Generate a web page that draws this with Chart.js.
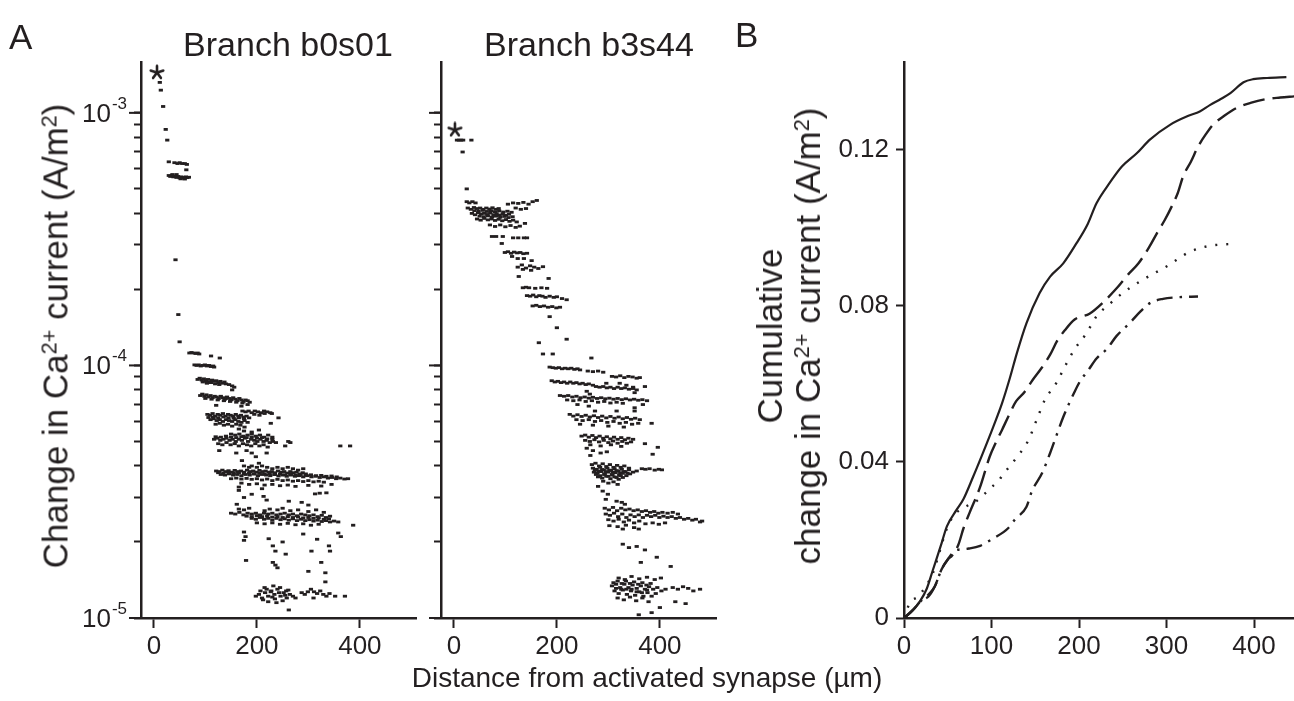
<!DOCTYPE html>
<html><head><meta charset="utf-8">
<script src="https://cdn.jsdelivr.net/npm/chart.js@4.4.1/dist/chart.umd.min.js"></script>
<style>
html,body{margin:0;padding:0;background:#fff;}
#wrap{position:relative;width:1294px;height:701px;overflow:hidden;font-family:"Liberation Sans",Arial,Helvetica,sans-serif;color:#231f20;}
canvas{position:absolute;top:0;}
.lbl{position:absolute;white-space:nowrap;line-height:1;}
.ctr{transform:translateX(-50%);}
.rot{transform:translate(-50%,-50%) rotate(-90deg);text-align:center;}
sup{font-size:0.62em;position:relative;top:-0.5em;vertical-align:baseline;line-height:0;}
</style></head>
<body><div id="wrap">
<canvas id="cA1" width="425" height="701" style="left:0px;width:425px;height:701px"></canvas>
<canvas id="cA2" width="300" height="701" style="left:425px;width:300px;height:701px"></canvas>
<canvas id="cB" width="564" height="701" style="left:730px;width:564px;height:701px"></canvas>
<div class="lbl" style="left:9px;top:19px;font-size:35px">A</div>
<div class="lbl" style="left:735px;top:17px;font-size:35px">B</div>
<div class="lbl ctr" style="left:288px;top:27px;font-size:34px">Branch b0s01</div>
<div class="lbl ctr" style="left:589px;top:27px;font-size:34px">Branch b3s44</div>
<div class="lbl ctr" style="left:647px;top:664px;font-size:28px">Distance from activated synapse (µm)</div>
<div class="lbl rot" style="left:55px;top:336px;font-size:35px">Change in Ca<sup>2+</sup> current (A/m<sup>2</sup>)</div>
<div class="lbl rot" style="left:789px;top:336px;font-size:35px;line-height:38px">Cumulative<br>change in Ca<sup>2+</sup> current (A/m<sup>2</sup>)</div>
</div>
<script>
// ---------------- DATA ----------------
// Panel A: y values in units of 1e-5 A/m^2, x in µm
const A_UNIT = 1e-5;
const starB0 = [[6, 145]];
const starB3 = [[2, 86]];

const b0s01Top = [[11.5,132],[13.5,123],[18,106],[23,86],[26,78],[29,64],
 [40,63.5],[46,63],[50,63.5],[55,63],[60,63],[64,62.5],[63,59.5],
 [29,56.5],[32,56],[35,56.5],[38,55.8],[41,56.2],[44,55.5],[47,56],[50,55.3],[53,55.8],[56,55.5],[59,55.2],[62,55.8],[65,55.4],[68,55.6],[36,57],[44,57],[52,54.8],[60,54.7],
 [42,26.2],[47.5,15.9],[50,12.4]];

const b0s01Upper = [[69,11.2],[73,11.25],[77,11.2],[81,11.15],[85,11.2],[88,11.1],[111,10.9],[128,10.7],
 [79,10.05],[83,10.0],[87,10.05],[91,9.95],[95,10.0],[99,10.05],[103,9.95],[107,10.0],[111,9.9],[115,9.95],[117,9.85],
 [85,8.8],[89,8.9],[93,8.75],[97,8.85],[101,8.7],[105,8.8],[109,8.6],[113,8.75],[117,8.65],[121,8.7],[125,8.55],[129,8.65],[133,8.5],[137,8.6],[140,8.45],[95,8.6],[103,8.5],[111,8.55],[119,8.45],[127,8.4],[146,8.4],[152,8.3],[156,8.2],[152,8.0],
 [90,7.6],[94,7.7],[98,7.55],[102,7.65],[106,7.5],[110,7.6],[114,7.45],[118,7.55],[122,7.5],[126,7.4],[130,7.55],[134,7.45],[138,7.35],[142,7.5],[146,7.4],[150,7.3],[154,7.45],[158,7.35],[162,7.25],[166,7.4],[170,7.3],[174,7.2],[178,7.3],[182,7.25],[186,7.15],[100,7.4],[112,7.35],[124,7.3],[136,7.25],[148,7.2],[160,7.15],[172,7.1],[121,6.95],[170,6.9],[182,7.0],
 [172,6.6],[178,6.55],[184,6.6],[190,6.5],[196,6.6],[202,6.55],[208,6.5],[214,6.6],[220,6.55],[226,6.5],[229,6.45],
 [104,6.4],[109,6.35],[114,6.45],[119,6.3],[124,6.4],[129,6.35],[134,6.45],[139,6.3],[144,6.4],[149,6.35],[154,6.3],[159,6.4],[164,6.3],[169,6.35],[174,6.25],[180,6.3],
 [106,6.22],[115,6.25],[125,6.2],[135,6.25],[145,6.2],[155,6.18],[165,6.2],[175,6.15],[185,6.2],[195,6.4],[205,6.35],[215,6.45],
 [110,6.1],[116,6.15],[122,6.05],[128,6.1],[134,6.0],[140,6.1],[146,6.05],[152,6.0],[158,6.1],[164,6.0],[170,5.95],[176,6.05],[182,5.95],
 [120,5.85],[128,5.9],[136,5.8],[144,5.85],[152,5.75],[160,5.85],[168,5.8],[176,5.7],
 [242,6.2],[227,5.9],[165,5.6],[175,5.5],[190,5.45],[204,5.55]];

const b0s01Mid = [[150,5.35],[158,5.3],[166,5.35],[174,5.25],[182,5.3],[190,5.35],[198,5.25],[206,5.3],[214,5.2],[222,5.3],[230,5.2],
 [120,5.22],[130,5.2],[140,5.25],[150,5.2],[160,5.18],[170,5.22],[180,5.18],[190,5.2],[200,5.15],[210,5.18],[220,5.12],[230,5.1],
 [117,5.1],[123,5.15],[129,5.05],[135,5.1],[141,5.15],[147,5.05],[153,5.1],[159,5.0],[165,5.1],[171,5.05],[177,5.15],[183,5.0],[189,5.1],[195,5.05],[201,5.0],[207,5.1],[213,5.0],[219,5.05],[225,4.95],[231,5.0],[237,4.95],
 [125,4.9],[133,4.85],[141,4.95],[149,4.85],[157,4.9],[165,4.8],[173,4.9],[181,4.85],[189,4.8],[197,4.9],[205,4.8],[213,4.85],[221,4.75],
 [261,5.0],[265,4.95],[255,4.8],[362,4.8],[381,4.8],[127,4.6],[160,4.5],[180,4.6],[190,4.5],[198,4.35],[219,4.5],[171,4.2],[204,4.1],[175,4.0],[185,3.95],
 [190,4.0],[200,3.95],[210,4.0],[220,3.95],[230,3.9],[240,3.95],[250,3.9],[260,3.95],[270,3.9],[280,3.85],[290,3.9],
 [121,3.82],[127,3.8],[133,3.85],[139,3.8],[145,3.83],[151,3.78],[157,3.84],[163,3.8],[169,3.82],[175,3.78],[181,3.85],[187,3.8],[193,3.82],[199,3.78],[205,3.84],[211,3.8],[217,3.82],[223,3.78],[229,3.8],[235,3.76],[241,3.82],[247,3.78],[253,3.8],[259,3.75],[265,3.8],[271,3.76],[277,3.78],[283,3.72],[289,3.76],[295,3.72],
 [125,3.76],[135,3.74],[145,3.77],[155,3.74],[165,3.76],[175,3.73],[185,3.75],[195,3.72],[205,3.74],[215,3.72],[225,3.73],[235,3.7],[245,3.72],[255,3.69],[265,3.71],[275,3.68],[285,3.7],[295,3.67],[305,3.69],[315,3.66],[325,3.67],[335,3.64],[345,3.65],[355,3.62],
 [130,3.7],[138,3.68],[146,3.72],[154,3.68],[162,3.7],[170,3.66],[178,3.7],[186,3.68],[194,3.72],[202,3.66],[210,3.7],[218,3.68],[226,3.66],[234,3.7],[242,3.65],[250,3.68],[258,3.64],[266,3.68],[274,3.64],[282,3.66],[290,3.62],[298,3.66],[306,3.62],[314,3.64],[322,3.6],[330,3.62],[338,3.58],[346,3.6],[354,3.56],[362,3.58],[370,3.55],[377,3.56],
 [150,3.56],[160,3.58],[170,3.55],[180,3.57],[190,3.54],[200,3.56],[210,3.52],[220,3.55],[230,3.5],[240,3.54],[250,3.5],[260,3.52],[270,3.48],[280,3.5],[290,3.47],[300,3.5],[310,3.46],[320,3.48],[330,3.45],
 [170,3.42],[185,3.38],[200,3.4],[215,3.36],[230,3.38],[245,3.34],[260,3.36],[275,3.32],[300,3.35],[325,3.33],[345,3.38],
 [165,3.3],[165,3.2],[210,3.25],[313,3.1],[322,3.12],[335,3.13],[262,2.9],[287,2.87],[300,2.8],[161,2.82],[190,3.09],[213,3.03],[219,2.93],[175,3.0]];

const b0s01Low = [[165,2.7],[175,2.68],[185,2.72],[215,2.66],[225,2.7],[240,2.68],[250,2.72],[265,2.66],[280,2.68],[300,2.64],[315,2.68],[330,2.62],
 [150,2.6],[158,2.58],[166,2.62],[174,2.56],[182,2.6],[190,2.58],[198,2.6],[206,2.56],[214,2.6],[222,2.58],[230,2.6],[238,2.56],[246,2.58],[254,2.6],[262,2.56],[270,2.58],[278,2.54],[286,2.58],[294,2.56],[302,2.54],[310,2.56],[318,2.52],[326,2.55],[334,2.5],[342,2.53],
 [180,2.53],[190,2.52],[200,2.54],[210,2.52],[220,2.53],[230,2.51],[240,2.52],[250,2.5],[260,2.52],[270,2.5],[280,2.51],[290,2.49],[300,2.5],[310,2.48],[320,2.49],[330,2.46],[340,2.47],
 [190,2.48],[198,2.46],[206,2.5],[214,2.46],[222,2.48],[230,2.44],[238,2.48],[246,2.45],[254,2.47],[262,2.44],[270,2.47],[278,2.43],[286,2.46],[294,2.43],[302,2.45],[310,2.42],[318,2.44],[326,2.41],[334,2.43],[342,2.4],[350,2.42],[358,2.4],
 [200,2.38],[215,2.36],[230,2.38],[245,2.35],[260,2.37],[275,2.34],[290,2.36],[305,2.33],[320,2.35],[387,2.33],
 [175,2.19],[175,2.03],[178,2.1],[223,2.06],[231,1.93],[236,1.84],[256,1.79],[306,1.84],[340,1.93],[342,1.84],[179,1.69],[231,1.66],[236,1.62],[240,1.58],[300,1.53],[325,1.66],[333,1.51],[333,1.39],[358,2.17],[363,2.1],[250,2.0],[290,2.15],[317,2.05]];

const b0s01Bottom = [[198,1.22],[204,1.24],[210,1.2],[216,1.26],[222,1.22],[228,1.28],[234,1.24],[240,1.3],[246,1.22],[252,1.26],[258,1.2],[264,1.24],[270,1.22],[275,1.2],[215,1.32],[232,1.34],[245,1.32],[222,1.16],[238,1.15],[250,1.17],[235,1.19],[227,1.27],[257,1.28],
 [207,1.28],[219,1.3],[243,1.26],[261,1.29],[212,1.18],[230,1.21],[255,1.23],
 [287,1.26],[293,1.24],[299,1.27],[305,1.3],[311,1.27],[317,1.25],[323,1.28],[329,1.24],[335,1.22],[341,1.25],[352,1.22],[371,1.22],[310,1.2],[262,1.076]];

const b3s44Top = [[6,78],[10,78],[14,78],[18,78],[34,78],[17,70],[25,50],
 [25,44.5],[30,44],[36,44.5],[42,44],[105,43.5],[115,44],[125,43.8],[135,44.2],[145,43.5],[153,44.5],[161,45],
 [27,42],[33,41.5],[39,42.2],[45,41.8],[51,42],[57,41.5],[63,42],[69,41.6],[75,42.1],[81,41.5],[87,41.8],[120,42],[130,41.5],[140,41.8],
 [40,41],[48,40.8],[56,41.1],[64,40.7],[72,41],[80,40.6],[88,40.9],[96,40.5],[104,40.8],[112,40.4],
 [35,40],[41,39.5],[47,40.2],[53,39.8],[59,40],[65,39.6],[71,40.1],[77,39.5],[83,39.9],[89,39.4],[95,39.8],[101,39.3],[107,39.7],
 [50,39],[58,38.8],[66,39.1],[74,38.7],[82,39],[90,38.6],[98,38.9],[106,38.5],[114,38.8],
 [45,38],[52,37.6],[59,38.2],[66,37.7],[73,38],[80,37.5],[87,37.9],[94,37.4],[101,37.8],[108,37.2],[115,37.6],[122,37],
 [70,36],[80,35.5],[90,36],[100,35.4],[110,35.8],[120,35.2],[128,35.6],[138,36.5]];

const b3s44Diag = [[74,32.4],[82,32.4],[95,32.4],[115,32],[125,32],[136,32],[142,32],[93,30.4],
 [99,28],[105,28.2],[111,27.8],[117,28.1],[123,27.9],[129,28],[135,27.7],[142,27.8],[113,27],[124,26.5],[136,26.5],[151,26],
 [124,24.5],[132,25],[140,24.3],[148,24.8],[156,24.5],[164,24.2],[173,24.6],[134,24],[150,23.8],[126,22.5],[184,22.1],
 [134,20.3],[140,20.4],[146,20.3],[158,20.2],[170,20.3],[181,20.2],
 [142,18.9],[148,18.8],[154,19],[160,18.7],[166,18.9],[172,18.8],[178,18.6],[186,18.8],[194,18.6],[200,18.7],[210,18.4],[219,18.2],
 [153,17.2],[160,17.3],[167,17.1],[175,17.2],[183,17],[191,17.1],[199,16.9],[206,17],[186,15.6],[200,14.1],[165,12.3],[219,12.7],
 [173,11.1],[192,11.1],[267,10.7]];

const b3s44Upper = [[186,9.85],[192,9.8],[198,9.75],[204,9.8],[210,9.7],[216,9.75],[222,9.7],[228,9.75],[234,9.65],[240,9.7],[245,9.6],
 [260,9.5],[270,9.45],[280,9.5],[290,9.4],
 [307,9.05],[315,9.0],[323,9.1],[331,8.95],[339,9.05],[347,9.0],[355,8.9],[361,8.95],
 [190,8.7],[196,8.6],[202,8.65],[208,8.55],[214,8.6],[220,8.5],[226,8.6],[232,8.5],[238,8.55],[244,8.45],[250,8.5],[256,8.4],[262,8.45],[270,8.35],
 [276,8.25],[283,8.2],[290,8.25],[297,8.15],[304,8.2],[311,8.1],[318,8.2],[325,8.1],[332,8.15],[340,8.05],[348,8.1],[355,8.0],
 [296,8.5],[322,8.5],[335,8.35],[348,8.2],[258,7.9],[264,7.7],[351,7.8],[371,8.25],
 [206,7.6],[214,7.55],[222,7.6],[230,7.5],[238,7.55],[246,7.45],[254,7.5],[262,7.42],[270,7.48],[278,7.4],[286,7.45],[294,7.38],[302,7.42],[310,7.35],[318,7.4],[326,7.32],[334,7.38],[342,7.3],[350,7.35],[358,7.28],[366,7.32],[375,7.25],
 [220,7.3],[232,7.25],[244,7.3],[256,7.2],[268,7.25],[280,7.15],[292,7.2],[304,7.1],[316,7.15],[328,7.08],
 [240,7.0],[262,6.9],[274,6.6],[316,6.6],[351,6.8],[351,6.6],[367,7.0],
 [225,6.4],[232,6.3],[240,6.38],[248,6.28],[256,6.35],[264,6.25],[272,6.32],[280,6.22],[288,6.3],[296,6.2],[304,6.28],[312,6.18],[320,6.25],[328,6.15],[336,6.22],[344,6.12],[352,6.18],[361,6.1],
 [238,6.1],[250,6.05],[262,6.1],[274,6.0],[286,6.05],[298,5.95],[310,6.0],[322,5.9],[334,5.95],[346,5.85],[358,5.9],[384,5.9],
 [245,5.85],[270,5.8],[300,5.75],[330,5.7]];

const b3s44Mid = [[248,5.25],[255,5.3],[262,5.2],[269,5.28],[276,5.18],[283,5.25],[290,5.15],[297,5.22],[304,5.12],[311,5.2],[318,5.1],[325,5.18],[332,5.08],[339,5.15],[348,5.1],
 [255,5.05],[264,5.0],[273,5.08],[282,4.98],[291,5.05],[300,4.95],[309,5.02],[318,4.92],[327,5.0],[336,4.92],[344,4.98],
 [265,4.85],[285,4.8],[305,4.85],[325,4.78],
 [371,4.9],[396,4.74],[386,4.45],[258,4.7],[270,4.6],[285,4.5],[297,4.55],[265,4.4],
 [268,4.05],[275,4.1],[282,4.0],[289,4.08],[296,3.98],[303,4.05],[310,3.95],[317,4.02],[324,3.95],[331,4.0],[340,3.92],
 [270,3.92],[277,3.88],[284,3.95],[291,3.86],[298,3.92],[305,3.84],[312,3.9],[319,3.82],[326,3.88],[333,3.8],[340,3.86],[348,3.78],[355,3.82],
 [274,3.85],[281,3.82],[288,3.87],[295,3.8],[302,3.85],[309,3.78],[316,3.83],[323,3.76],[330,3.8],[337,3.74],
 [272,3.78],[279,3.74],[286,3.8],[293,3.72],[300,3.78],[307,3.7],[314,3.76],[321,3.68],[328,3.74],[335,3.66],[342,3.72],
 [276,3.7],[284,3.66],[292,3.7],[300,3.64],[308,3.68],[316,3.6],[324,3.66],
 [280,3.62],[288,3.58],[296,3.64],[304,3.56],[312,3.62],[320,3.54],[328,3.6],
 [290,3.48],[300,3.42],[310,3.46],[318,3.38],
 [365,3.9],[372,3.88],[380,3.9],[390,3.85],[398,3.88],[404,3.86],
 [280,3.32],[289,3.18],[299,3.09],[316,2.9],[326,2.87],[332,2.82],[295,2.95]];

const b3s44Low = [[293,2.72],[301,2.68],[309,2.74],[317,2.66],[325,2.72],[333,2.68],[341,2.7],[349,2.66],[357,2.68],[365,2.64],[373,2.66],[381,2.62],[389,2.64],[397,2.6],[405,2.62],[415,2.6],[425,2.62],[435,2.58],
 [295,2.58],[303,2.55],[311,2.6],[319,2.52],[327,2.58],[335,2.5],[343,2.56],[351,2.52],[359,2.56],[367,2.5],[375,2.55],[383,2.52],[391,2.55],[399,2.5],[407,2.53],[415,2.5],[423,2.52],[431,2.48],[439,2.5],[447,2.46],[455,2.48],[463,2.44],[470,2.46],[478,2.4],[482,2.42],
 [300,2.45],[310,2.42],[320,2.46],[330,2.4],[340,2.44],[350,2.38],[360,2.42],[372,2.36],[386,2.38],[398,2.35],[410,2.38],
 [302,2.32],[318,2.3],[334,2.33],[350,2.28],
 [359,2.25],[328,2.25],[328,1.96],[340,1.9],[355,1.92],[371,1.86],[394,1.74],[363,1.66],[421,1.6]];

const b3s44Bottom = [[320,1.44],[332,1.42],[345,1.46],[360,1.43],[375,1.45],[390,1.42],[402,1.44],
 [310,1.38],[318,1.4],[326,1.37],[334,1.4],[342,1.37],[350,1.39],[358,1.36],[366,1.38],[374,1.35],[382,1.37],
 [307,1.34],[315,1.36],[323,1.32],[331,1.36],[339,1.32],[347,1.35],[355,1.31],[363,1.34],[371,1.3],[379,1.33],[387,1.3],[395,1.32],[403,1.28],[411,1.3],
 [315,1.31],[325,1.3],[335,1.3],[345,1.3],[355,1.27],[365,1.26],[375,1.29],
 [312,1.28],[320,1.25],[328,1.29],[336,1.24],[344,1.28],[352,1.23],[360,1.27],[368,1.22],[376,1.26],[384,1.22],[392,1.25],
 [318,1.2],[330,1.18],[342,1.21],[354,1.17],[366,1.2],[378,1.16],
 [425,1.32],[435,1.3],[445,1.33],[455,1.31],[465,1.28],[478,1.3],
 [450,1.14],[384,1.05],[359,1.03],[400,1.1],[430,1.16]];

// Panel A axes
const A_X_TICKS = [0, 200, 400];
const A_LOG_TICKS = [1e-5,2e-5,3e-5,4e-5,5e-5,6e-5,7e-5,8e-5,9e-5,1e-4,2e-4,3e-4,4e-4,5e-4,6e-4,7e-4,8e-4,9e-4,1e-3];
const A_MAJOR = [1e-5, 1e-4, 1e-3];
const A_LOG_LABELS = [[1e-5,'-5'],[1e-4,'-4'],[1e-3,'-3']];

// Panel B: cumulative change (A/m^2) vs distance (µm)
const cumSolid = [[0,0],[8,0.0015],[18,0.0042],[26,0.0075],[33,0.0123],[43,0.0192],[49,0.0235],[60,0.0277],[68,0.0305],[79,0.0362],[90,0.0422],[102,0.049],[112,0.055],[121,0.0615],[129,0.0679],[140,0.0756],[155,0.0833],[167,0.0875],[182,0.0909],[197,0.096],[210,0.101],[220,0.1063],[235,0.1115],[249,0.1157],[266,0.1191],[281,0.1226],[304,0.1264],[325,0.1287],[338,0.1298],[350,0.1315],[362,0.133],[373,0.1345],[388,0.1373],[399,0.1381],[415,0.1384],[437,0.1386]];
const cumDashed = [[0,0],[10,0.002],[20,0.0045],[28,0.0055],[35,0.008],[43,0.0125],[50,0.015],[55,0.016],[62,0.0187],[68,0.023],[75,0.027],[87,0.0336],[98,0.0414],[105,0.045],[112,0.0482],[120,0.052],[128,0.0555],[138,0.058],[147,0.061],[157,0.064],[167,0.0675],[175,0.071],[184,0.0738],[195,0.0765],[212,0.078],[228,0.081],[243,0.0845],[256,0.088],[268,0.0909],[280,0.095],[289,0.0986],[298,0.102],[306,0.1055],[313,0.109],[319,0.1132],[328,0.117],[336,0.1208],[345,0.124],[353,0.1264],[366,0.1287],[380,0.1307],[396,0.132],[414,0.133],[430,0.1334],[446,0.1337]];
const cumDotted = [[0,0],[7,0.004],[16,0.0055],[24,0.0078],[33,0.0115],[40,0.0165],[46,0.021],[52,0.0245],[60,0.027],[70,0.0285],[83,0.030],[92,0.0318],[100,0.0335],[108,0.0352],[115,0.0373],[129,0.0412],[142,0.0455],[152,0.051],[161,0.0559],[174,0.0602],[184,0.0645],[195,0.0689],[208,0.0728],[220,0.0773],[235,0.0805],[250,0.0833],[273,0.0867],[300,0.0901],[327,0.0939],[350,0.0954],[376,0.0959]];
const cumDashDot = [[0,0],[10,0.002],[20,0.0045],[28,0.006],[35,0.008],[43,0.0125],[50,0.015],[58,0.0172],[66,0.0176],[74,0.0178],[87,0.0185],[102,0.0204],[119,0.023],[127,0.0253],[140,0.0285],[146,0.0324],[158,0.0372],[167,0.0423],[173,0.046],[182,0.0515],[195,0.058],[202,0.061],[209,0.063],[220,0.0665],[232,0.069],[243,0.0723],[258,0.0756],[270,0.0785],[281,0.0807],[296,0.0818],[312,0.0822],[336,0.0824]];
const B_X_TICKS = [0,100,200,300,400];
const B_Y_TICKS = [0,0.04,0.08,0.12];
const B_Y_LABELS = ['0','0.04','0.08','0.12'];

// ---------------- RENDER ----------------
const FONT = '"Liberation Sans", Arial, Helvetica, sans-serif';
const INK = '#231f20';
const toPts = arr => arr.map(([x, y]) => ({x, y: y * A_UNIT}));
const toXY = arr => arr.map(([x, y]) => ({x, y}));

function asteriskCanvas() {
  const c = document.createElement('canvas');
  c.width = 18; c.height = 16;
  const g = c.getContext('2d');
  g.strokeStyle = INK; g.lineWidth = 2.6; g.lineCap = 'round';
  const cx = 9, cy = 8.5, r = 6.6;
  for (let k = 0; k < 5; k++) {
    const a = -Math.PI / 2 + k * 2 * Math.PI / 5;
    g.beginPath(); g.moveTo(cx, cy); g.lineTo(cx + r * Math.cos(a), cy + r * Math.sin(a)); g.stroke();
  }
  return c;
}
const STAR = asteriskCanvas();

const majorTickPlugin = {
  id: 'majorTicks',
  afterDraw(chart) {
    const s = chart.scales.y, ctx = chart.ctx;
    ctx.save(); ctx.strokeStyle = INK; ctx.lineWidth = 2;
    A_MAJOR.forEach(v => {
      const y = s.getPixelForValue(v);
      ctx.beginPath(); ctx.moveTo(s.right - 12, y); ctx.lineTo(s.right, y); ctx.stroke();
    });
    ctx.restore();
  }
};
const logLabelPlugin = {
  id: 'logLabels',
  afterDraw(chart) {
    const s = chart.scales.y, ctx = chart.ctx;
    ctx.save(); ctx.fillStyle = INK; ctx.textAlign = 'right'; ctx.textBaseline = 'alphabetic';
    A_LOG_LABELS.forEach(([v, e]) => {
      const y = s.getPixelForValue(v);
      const right = s.right - 14;
      ctx.font = '17px ' + FONT;
      const w = ctx.measureText(e).width;
      ctx.fillText(e, right, y - 4);
      ctx.font = '26px ' + FONT;
      ctx.fillText('10', right - w - 1, y + 9);
    });
    ctx.restore();
  }
};

function panelA(id, yWidth, padRight, sets, star, labels) {
  const pts = [].concat(...sets.map(toPts));
  return new Chart(document.getElementById(id), {
    type: 'scatter',
    data: { datasets: [
      { data: pts, pointStyle: 'line', pointRadius: 2.1, borderWidth: 2.8, borderColor: INK, backgroundColor: INK },
      { data: toPts(star), pointStyle: STAR, pointRadius: 8 }
    ]},
    options: {
      responsive: false, animation: false, events: [],
      layout: { padding: { left: 0, top: 62, right: padRight, bottom: 0 } },
      plugins: { legend: { display: false }, tooltip: { enabled: false } },
      scales: {
        x: { type: 'linear', min: -25, max: 509,
          afterBuildTicks(s) { s.ticks = A_X_TICKS.map(v => ({ value: v })); },
          afterFit(s) { s.height = 83; },
          ticks: { autoSkip: false, maxRotation: 0, padding: 3, color: INK, font: { family: FONT, size: 26 } },
          grid: { drawOnChartArea: false, tickLength: 10, tickWidth: 2, tickColor: INK },
          border: { color: INK, width: 2.5 } },
        y: { type: 'logarithmic', min: 1e-5, max: 1.59e-3,
          afterBuildTicks(s) { s.ticks = A_LOG_TICKS.map(v => ({ value: v })); },
          afterFit(s) { s.width = yWidth; },
          ticks: { autoSkip: false, callback: () => '', font: { size: 1 } },
          grid: { drawOnChartArea: false, tickLength: 7, tickWidth: 2, tickColor: INK },
          border: { color: INK, width: 2.5 } }
      }
    },
    plugins: labels ? [majorTickPlugin, logLabelPlugin] : [majorTickPlugin]
  });
}

panelA('cA1', 141, 8, [b0s01Top, b0s01Upper, b0s01Mid, b0s01Low, b0s01Bottom], starB0, true);
panelA('cA2', 16, 8, [b3s44Top, b3s44Diag, b3s44Upper, b3s44Mid, b3s44Low, b3s44Bottom], starB3, false);

const lineDs = (arr, dash, w) => ({ data: toXY(arr), showLine: true, pointRadius: 0, borderColor: INK, borderWidth: w,
  borderDash: dash, borderCapStyle: 'butt', cubicInterpolationMode: 'monotone', fill: false });

new Chart(document.getElementById('cB'), {
  type: 'scatter',
  data: { datasets: [
    lineDs(cumSolid, [], 2.2),
    lineDs(cumDashed, [22, 8], 2.4),
    lineDs(cumDotted, [2, 9], 2.4),
    lineDs(cumDashDot, [16, 7, 2.5, 7], 2.4)
  ]},
  options: {
    responsive: false, animation: false, events: [],
    layout: { padding: { left: 0, top: 62, right: 0, bottom: 0 } },
    plugins: { legend: { display: false }, tooltip: { enabled: false } },
    scales: {
      x: { type: 'linear', min: 0, max: 445.7,
        afterBuildTicks(s) { s.ticks = B_X_TICKS.map(v => ({ value: v })); },
        afterFit(s) { s.height = 83; },
        ticks: { autoSkip: false, maxRotation: 0, padding: 3, color: INK, font: { family: FONT, size: 26 } },
        grid: { drawOnChartArea: false, tickLength: 10, tickWidth: 2, tickColor: INK },
        border: { color: INK, width: 2.5 } },
      y: { type: 'linear', min: 0, max: 0.1425,
        afterBuildTicks(s) { s.ticks = B_Y_TICKS.map(v => ({ value: v })); },
        afterFit(s) { s.width = 174; },
        ticks: { autoSkip: false, padding: 7, color: INK, font: { family: FONT, size: 26 },
          callback: (v, i) => B_Y_LABELS[i] },
        grid: { drawOnChartArea: false, tickLength: 8, tickWidth: 2, tickColor: INK },
        border: { color: INK, width: 2.5 } }
    }
  }
});
</script>
</body></html>
